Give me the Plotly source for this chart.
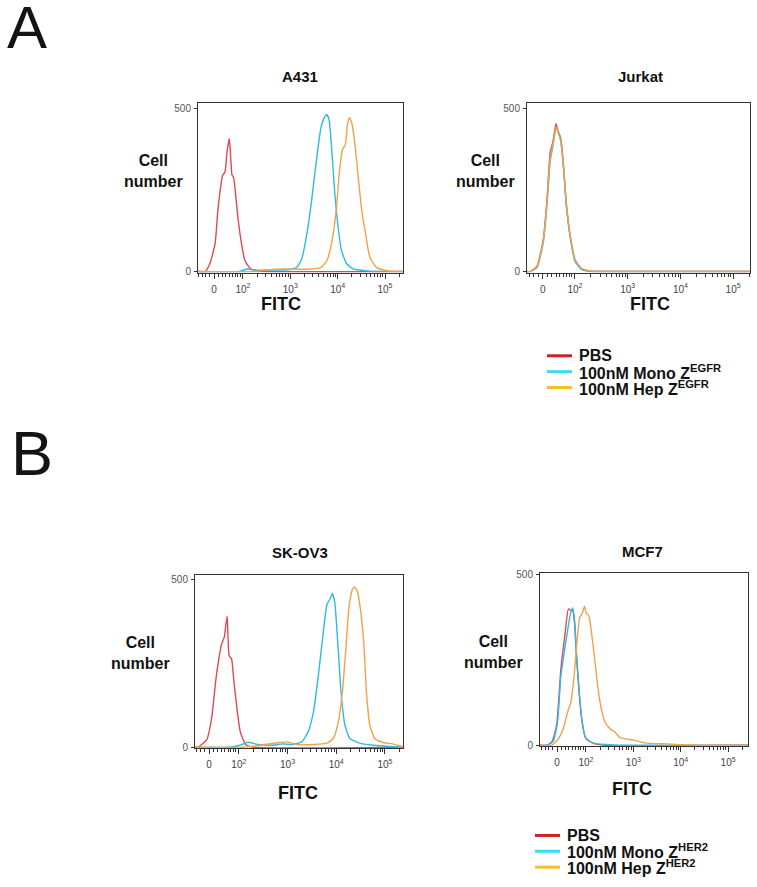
import numpy as np
import plotly.graph_objects as go

W, H = 757, 887
FONT = "Arial, Liberation Sans, Helvetica, sans-serif"

# ---------------- data (x in display decades of the FITC axis, y = cell number) -------------
A431_PBS_u = [1.05, 1.20, 1.30, 1.41, 1.47, 1.51, 1.57, 1.62, 1.66, 1.71, 1.74, 1.77, 1.80, 1.85, 1.90, 1.97, 2.04, 2.15, 2.29, 2.45, 5.38]
A431_PBS_n = [0, 0, 24, 85, 188, 240, 296, 306, 363, 409, 353, 296, 291, 229, 157, 85, 34, 10, 2, 0, 0]
A431_MONO_u = [1.05, 1.90, 2.10, 2.30, 2.60, 2.90, 3.13, 3.24, 3.35, 3.45, 3.56, 3.65, 3.71, 3.77, 3.82, 3.87, 3.94, 4.01, 4.08, 4.19, 4.33, 4.62, 4.90, 5.38]
A431_MONO_n = [0, 0, 8, 4, 5, 5, 12, 39, 116, 219, 353, 445, 471, 483, 466, 384, 240, 137, 65, 24, 8, 2, 0, 0]
A431_HEP_u = [1.05, 2.20, 2.50, 2.92, 3.30, 3.64, 3.77, 3.87, 3.97, 4.04, 4.11, 4.16, 4.21, 4.25, 4.30, 4.37, 4.44, 4.51, 4.60, 4.68, 4.82, 5.04, 5.32, 5.38]
A431_HEP_n = [0, 0, 5, 8, 7, 12, 33, 85, 188, 312, 379, 389, 456, 473, 456, 384, 281, 188, 106, 44, 13, 3, 0, 0]

JURKAT_u = [1.09, 1.15, 1.28, 1.40, 1.47, 1.53, 1.58, 1.64, 1.68, 1.73, 1.78, 1.84, 1.92, 2.00, 2.13, 2.29, 2.50, 5.32]
JURKAT_PBS_n = [0, 0, 17, 100, 223, 367, 398, 455, 430, 410, 330, 200, 98, 36, 7, 1, 0, 0]
JURKAT_MONO_n = [0, 0, 12, 90, 205, 340, 385, 440, 432, 405, 325, 195, 95, 32, 6, 1, 0, 0]
JURKAT_HEP_n = [0, 0, 15, 95, 215, 350, 392, 445, 428, 400, 322, 205, 102, 38, 9, 2, 0, 0]

SKOV3_PBS_u = [1.10, 1.16, 1.34, 1.44, 1.53, 1.59, 1.645, 1.70, 1.76, 1.80, 1.85, 1.90, 1.97, 2.03, 2.14, 2.30, 5.37]
SKOV3_PBS_n = [0, 0, 22, 85, 204, 264, 308, 328, 392, 273, 264, 194, 105, 46, 8, 0, 0]
SKOV3_MONO_u = [1.10, 1.82, 2.00, 2.19, 2.40, 2.70, 2.90, 3.10, 3.29, 3.42, 3.53, 3.63, 3.73, 3.81, 3.87, 3.92, 3.97, 4.04, 4.11, 4.18, 4.28, 4.48, 4.76, 5.03, 5.30, 5.37]
SKOV3_MONO_n = [0, 0, 5, 15, 8, 6, 10, 8, 16, 45, 104, 212, 339, 427, 442, 459, 432, 290, 143, 65, 26, 12, 6, 3, 0, 0]
SKOV3_HEP_u = [1.10, 2.10, 2.40, 2.84, 2.98, 3.19, 3.53, 3.81, 3.94, 4.04, 4.13, 4.20, 4.26, 4.33, 4.37, 4.43, 4.50, 4.57, 4.62, 4.69, 4.79, 4.96, 5.16, 5.33, 5.37]
SKOV3_HEP_n = [0, 0, 5, 14, 16, 8, 8, 12, 26, 74, 172, 300, 417, 471, 479, 467, 408, 300, 163, 65, 26, 14, 10, 3, 2]

MCF7_PBS_u = [1.03, 1.17, 1.28, 1.38, 1.47, 1.56, 1.63, 1.68, 1.72, 1.76, 1.80, 1.85, 1.91, 1.99, 2.15, 2.40, 5.42]
MCF7_PBS_n = [0, 0, 10, 58, 222, 328, 400, 396, 395, 357, 261, 164, 77, 22, 6, 0, 0]
MCF7_MONO_u = [1.03, 1.17, 1.30, 1.40, 1.47, 1.56, 1.63, 1.68, 1.72, 1.76, 1.80, 1.86, 1.92, 2.00, 2.15, 2.43, 2.70, 5.42]
MCF7_MONO_n = [0, 0, 10, 68, 203, 290, 352, 390, 403, 367, 270, 154, 68, 19, 6, 2, 0, 0]
MCF7_HEP_u = [1.03, 1.28, 1.42, 1.52, 1.61, 1.68, 1.75, 1.82, 1.87, 1.92, 1.97, 2.01, 2.06, 2.11, 2.17, 2.24, 2.31, 2.40, 2.51, 2.61, 2.72, 3.00, 3.28, 3.70, 4.12, 4.40, 5.42]
MCF7_HEP_n = [0, 0, 19, 48, 96, 125, 203, 318, 376, 386, 408, 386, 381, 338, 270, 183, 116, 68, 48, 39, 22, 15, 6, 4, 1, 0, 0]

X_TICK_VALS = [1.39, 2, 3, 4, 5]
X_TICK_TEXT = ["0", "10<sup>2</sup>", "10<sup>3</sup>", "10<sup>4</sup>", "10<sup>5</sup>"]
Y_TICK_VALS = [0, 500]
Y_TICK_TEXT = ["0", "500"]

LEGEND_A = ["PBS", "100nM Mono Z<sup>EGFR</sup>", "100nM Hep Z<sup>EGFR</sup>"]
LEGEND_B = ["PBS", "100nM Mono Z<sup>HER2</sup>", "100nM Hep Z<sup>HER2</sup>"]

CURVE_COLORS = ["#e4474f", "#2fb9e4", "#f2a24a"]
LEGEND_COLORS = ["#d21f1f", "#36e0ee", "#f6c02c"]

# minor tick positions of the biexponential-like display
C = 10 ** 1.39
def disp(v):
    v = np.asarray(v, dtype=float)
    return np.log10((v + np.sqrt(v * v + 4 * C * C)) / 2)

minor_lin = list(disp([-40, -30, -20, -10, 10, 20, 30, 40, 50, 60, 70, 80, 90]))
minor_log = [float(np.log10(k * 10 ** n)) for n in (2, 3, 4) for k in range(2, 10)] + [float(np.log10(2e5))]
MINOR = [float(v) for v in minor_lin] + minor_log

panels = [
    dict(title="A431", box=(198, 403, 101, 272), xr=[1.05, 5.38], yr=[-3, 518],
         title_xy=(300, 74), cell_xy=(153, 170), fitc_xy=(281, 304),
         series=[(A431_PBS_u, A431_PBS_n), (A431_MONO_u, A431_MONO_n), (A431_HEP_u, A431_HEP_n)]),
    dict(title="Jurkat", box=(527, 750, 101, 272), xr=[1.09, 5.32], yr=[-3, 518],
         title_xy=(640, 74), cell_xy=(485, 170), fitc_xy=(650, 304),
         series=[(JURKAT_u, JURKAT_PBS_n), (JURKAT_u, JURKAT_MONO_n), (JURKAT_u, JURKAT_HEP_n)]),
    dict(title="SK-OV3", box=(195, 403, 577, 752), xr=[1.10, 5.37], yr=[-3, 515],
         title_xy=(300, 555), cell_xy=(140, 656), fitc_xy=(298, 797),
         series=[(SKOV3_PBS_u, SKOV3_PBS_n), (SKOV3_MONO_u, SKOV3_MONO_n), (SKOV3_HEP_u, SKOV3_HEP_n)]),
    dict(title="MCF7", box=(540, 748, 575, 750), xr=[1.03, 5.42], yr=[-3, 506],
         title_xy=(642, 553), cell_xy=(494, 655), fitc_xy=(632, 793),
         series=[(MCF7_PBS_u, MCF7_PBS_n), (MCF7_MONO_u, MCF7_MONO_n), (MCF7_HEP_u, MCF7_HEP_n)]),
]

def fx(p):
    return p / W

def fy(p):
    return 1 - p / H

fig = go.Figure()
layout = dict(width=W, height=H, margin=dict(l=0, r=0, t=0, b=0),
              paper_bgcolor="white", plot_bgcolor="white", showlegend=False)
annotations = []
shapes = []

for i, p in enumerate(panels):
    k = "" if i == 0 else str(i + 1)
    x0, x1, y0, y1 = p["box"]
    for (u, n), col in zip(p["series"], CURVE_COLORS):
        fig.add_trace(go.Scatter(x=u, y=n, mode="lines", xaxis="x" + k, yaxis="y" + k,
                                 line=dict(color=col, width=1.4, shape="spline", smoothing=0.5),
                                 hoverinfo="skip"))
    layout["xaxis" + k] = dict(
        domain=[fx(x0), fx(x1)], anchor="y" + k, range=p["xr"], showgrid=False, zeroline=False,
        showline=True, linecolor="#333", linewidth=1, mirror=True,
        ticks="outside", ticklen=5, tickcolor="#333", tickwidth=1,
        tickmode="array", tickvals=X_TICK_VALS, ticktext=X_TICK_TEXT,
        tickfont=dict(family=FONT, size=10, color="#444"), ticklabelstandoff=2,
        minor=dict(tickmode="array", tickvals=MINOR, ticks="outside", ticklen=3,
                   tickcolor="#333", tickwidth=1, showgrid=False),
    )
    layout["yaxis" + k] = dict(
        domain=[fy(y1), fy(y0)], anchor="x" + k, range=p["yr"], showgrid=False, zeroline=False,
        showline=True, linecolor="#333", linewidth=1, mirror=True,
        ticks="outside", ticklen=3, tickcolor="#333",
        tickmode="array", tickvals=Y_TICK_VALS, ticktext=Y_TICK_TEXT,
        tickfont=dict(family=FONT, size=10, color="#555"), ticklabelstandoff=1,
    )
    tx, ty = p["title_xy"]
    annotations.append(dict(x=fx(tx), y=fy(ty), xref="paper", yref="paper", showarrow=False,
                            text="<b>%s</b>" % p["title"], xanchor="center", yanchor="middle",
                            font=dict(family=FONT, size=15, color="#111")))
    cx, cy = p["cell_xy"]
    annotations.append(dict(x=fx(cx), y=fy(cy), xref="paper", yref="paper", showarrow=False,
                            text="<b>Cell</b><br><b>number</b>", xanchor="center", yanchor="middle",
                            align="center", font=dict(family=FONT, size=16, color="#111")))
    ffx, ffy = p["fitc_xy"]
    annotations.append(dict(x=fx(ffx), y=fy(ffy), xref="paper", yref="paper", showarrow=False,
                            text="<b>FITC</b>", xanchor="center", yanchor="middle",
                            font=dict(family=FONT, size=18, color="#111")))

# panel letters
annotations.append(dict(x=fx(27), y=fy(25), xref="paper", yref="paper", showarrow=False, text="A",
                        xanchor="center", yanchor="middle", font=dict(family=FONT, size=60, color="#141414")))
annotations.append(dict(x=fx(32), y=fy(454), xref="paper", yref="paper", showarrow=False, text="B",
                        xanchor="center", yanchor="middle", font=dict(family=FONT, size=63, color="#141414")))

# legends
def add_legend(labels, lx0, lx1, tx, rows):
    for lab, col, ry in zip(labels, LEGEND_COLORS, rows):
        shapes.append(dict(type="line", xref="paper", yref="paper", x0=fx(lx0), x1=fx(lx1),
                           y0=fy(ry), y1=fy(ry), line=dict(color=col, width=3)))
        annotations.append(dict(x=fx(tx), y=fy(ry), xref="paper", yref="paper", showarrow=False,
                                text="<b>%s</b>" % lab, xanchor="left", yanchor="middle",
                                font=dict(family=FONT, size=16, color="#111")))

add_legend(LEGEND_A, 547, 572, 577, [356, 372, 388])
add_legend(LEGEND_B, 535, 560, 565, [840, 856, 872])

layout["annotations"] = annotations
layout["shapes"] = shapes
fig.update_layout(**layout)
fig.write_html("out.html", config={"displayModeBar": False},
               post_script="document.body.style.margin='0';document.body.style.padding='0';")
